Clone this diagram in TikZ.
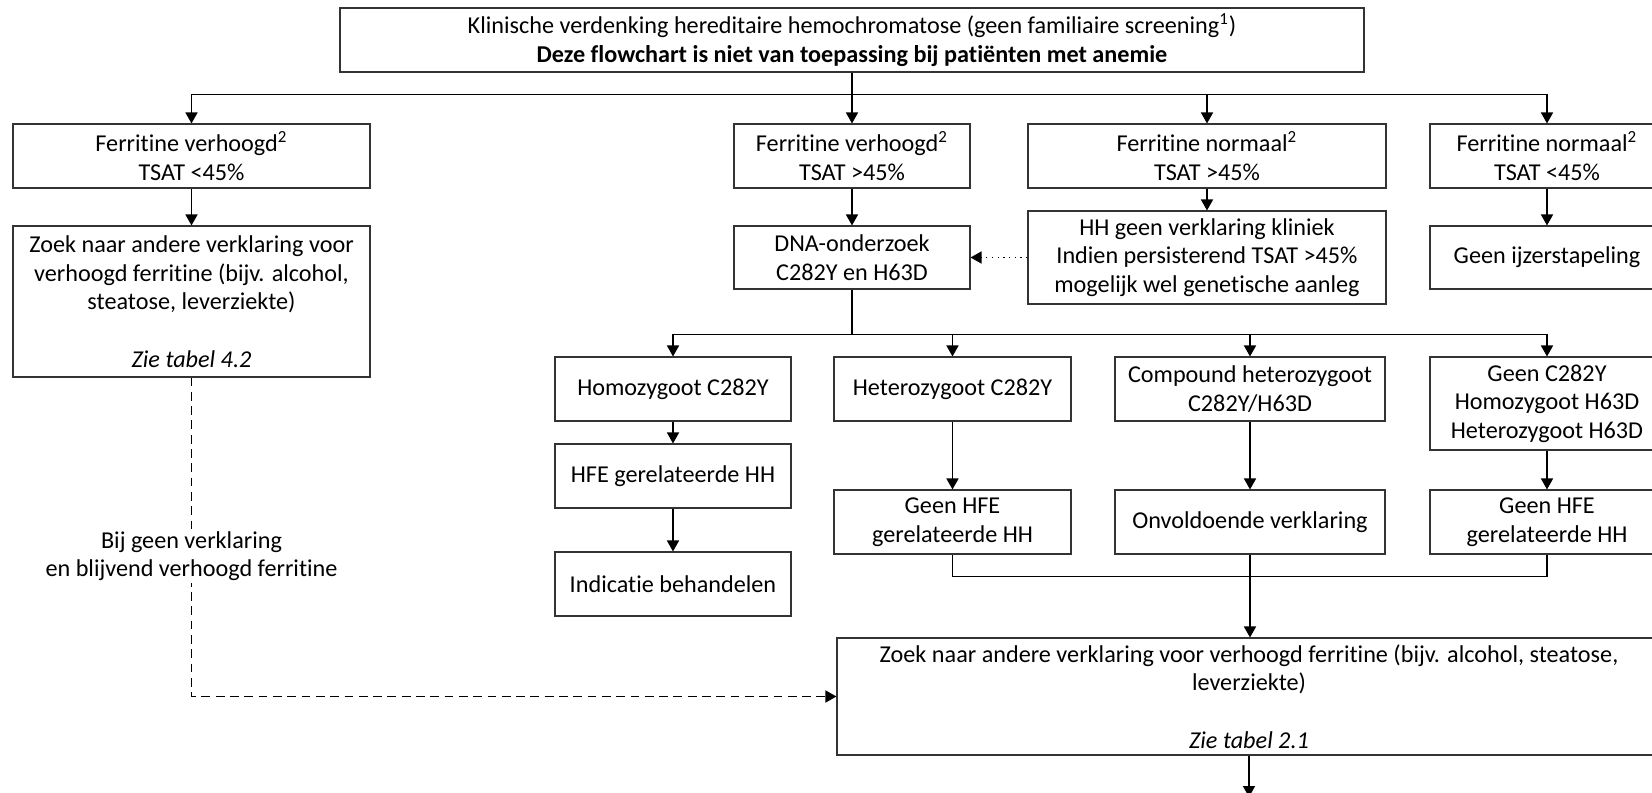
\documentclass[tikz,border=0pt]{standalone}
\usepackage{fontspec}
\setmainfont{Carlito}[Ligatures={TeX,NoCommon}]
\usetikzlibrary{arrows.meta}
\newcommand{\pxu}{0.4545pt}
\begin{document}
\begin{tikzpicture}[
  x=\pxu, y=-\pxu,
  blok/.style={draw=black!80, line width=0.5pt, align=center, inner sep=0pt,
    font=\fontsize{11}{13}\selectfont},
  uitleg/.style={fill=white, align=center, inner sep=1pt, font=\fontsize{11}{13}\selectfont},
  lijn/.style={line width=0.6pt},
  pijl/.style={-{Triangle[length=5pt,width=5.5pt]}, line width=0.6pt}
]
\useasboundingbox (0,0) rectangle (1652,793);
\clip (0,0) rectangle (1652,793);

\node[blok, minimum width=1024*\pxu, minimum height=64*\pxu] (start) at (852,40) {Klinische verdenking hereditaire hemochromatose (geen familiaire screening\textsuperscript{1})\\\textbf{Deze flowchart is niet van toepassing bij patiënten met anemie}};

% eerste splitsing
\node[blok, minimum width=357*\pxu, minimum height=64*\pxu] (ferhoog) at (191.5,156) {Ferritine verhoogd\textsuperscript{2}\\TSAT <45\%};
\node[blok, minimum width=236*\pxu, minimum height=64*\pxu] (ferhoogtsat) at (852,156) {Ferritine verhoogd\textsuperscript{2}\\TSAT >45\%};
\node[blok, minimum width=358*\pxu, minimum height=64*\pxu] (fernorm) at (1207,156) {Ferritine normaal\textsuperscript{2}\\TSAT >45\%};
\node[blok, minimum width=234*\pxu, minimum height=64*\pxu] (fernormlaag) at (1547,156) {Ferritine normaal\textsuperscript{2}\\TSAT <45\%};

\node[blok, minimum width=357*\pxu, minimum height=151*\pxu] (zoekL) at (191.5,301.5) {Zoek naar andere verklaring voor\\verhoogd ferritine (bijv. alcohol,\\steatose, leverziekte)\\[13pt]\textit{Zie tabel 4.2}};
\node[blok, minimum width=236*\pxu, minimum height=63*\pxu] (dna) at (852,257.5) {DNA-onderzoek\\C282Y en H63D};
\node[blok, minimum width=358*\pxu, minimum height=93*\pxu] (hhgeen) at (1207,257.5) {HH geen verklaring kliniek\\Indien persisterend TSAT >45\%\\mogelijk wel genetische aanleg};
\node[blok, minimum width=234*\pxu, minimum height=63*\pxu] (geenijzer) at (1547,257.5) {Geen ijzerstapeling};

% uitslag DNA
\node[blok, minimum width=236*\pxu, minimum height=64*\pxu] (homo) at (673,389) {Homozygoot C282Y};
\node[blok, minimum width=237*\pxu, minimum height=64*\pxu] (hetero) at (952.5,389) {Heterozygoot C282Y};
\node[blok, minimum width=270*\pxu, minimum height=64*\pxu] (compound) at (1250,389) {Compound heterozygoot\\C282Y/H63D};
\node[blok, minimum width=234*\pxu, minimum height=93*\pxu] (geenC) at (1547,403.5) {Geen C282Y\\Homozygoot H63D\\Heterozygoot H63D};

\node[blok, minimum width=236*\pxu, minimum height=64*\pxu] (hfeHH) at (673,476) {HFE gerelateerde HH};
\node[blok, minimum width=236*\pxu, minimum height=64*\pxu] (behandel) at (673,584) {Indicatie behandelen};
\node[blok, minimum width=237*\pxu, minimum height=64*\pxu] (geenhfeA) at (952.5,522) {Geen HFE\\gerelateerde HH};
\node[blok, minimum width=270*\pxu, minimum height=64*\pxu] (onvold) at (1250,522) {Onvoldoende verklaring};
\node[blok, minimum width=234*\pxu, minimum height=64*\pxu] (geenhfeB) at (1547,522) {Geen HFE\\gerelateerde HH};

\node[blok, minimum width=824*\pxu, minimum height=117*\pxu] (zoekR) at (1249,696.5) {Zoek naar andere verklaring voor verhoogd ferritine (bijv. alcohol, steatose,\\leverziekte)\\[13pt]\textit{Zie tabel 2.1}};
\coordinate (verder) at (1249,797);

% verbindingen
\draw[lijn] (start.south) -- ++(0,22) coordinate (splits);
\foreach \n in {ferhoog,ferhoogtsat,fernorm,fernormlaag}
  \draw[pijl] (splits) -| (\n.north);
\draw[pijl] (ferhoog) -- (zoekL);
\draw[pijl] (ferhoogtsat) -- (dna);
\draw[pijl] (fernorm) -- (hhgeen);
\draw[pijl] (fernormlaag) -- (geenijzer);
\draw[pijl, dotted] (hhgeen) -- (dna);

\draw[lijn] (dna.south) -- ++(0,45) coordinate (tak);
\foreach \n in {homo,hetero,compound,geenC}
  \draw[pijl] (tak) -| (\n.north);
\draw[pijl] (homo) -- (hfeHH);
\draw[pijl] (hfeHH) -- (behandel);
\draw[pijl] (hetero) -- (geenhfeA);
\draw[pijl] (compound) -- (onvold);
\draw[pijl] (geenC) -- (geenhfeB);

\path (onvold.south) ++(0,22) coordinate (samen);
\draw[lijn] (geenhfeA.south) |- (samen) -| (geenhfeB.south);
\draw[pijl] (onvold.south) -- (onvold.south |- zoekR.north);
\draw[pijl] (zoekR) -- (verder);

\draw[pijl, dash pattern=on 4pt off 2.5pt] (zoekL.south) |- node[uitleg, pos=0.28] {Bij geen verklaring\\en blijvend verhoogd ferritine} (zoekR.west);
\end{tikzpicture}
\end{document}
